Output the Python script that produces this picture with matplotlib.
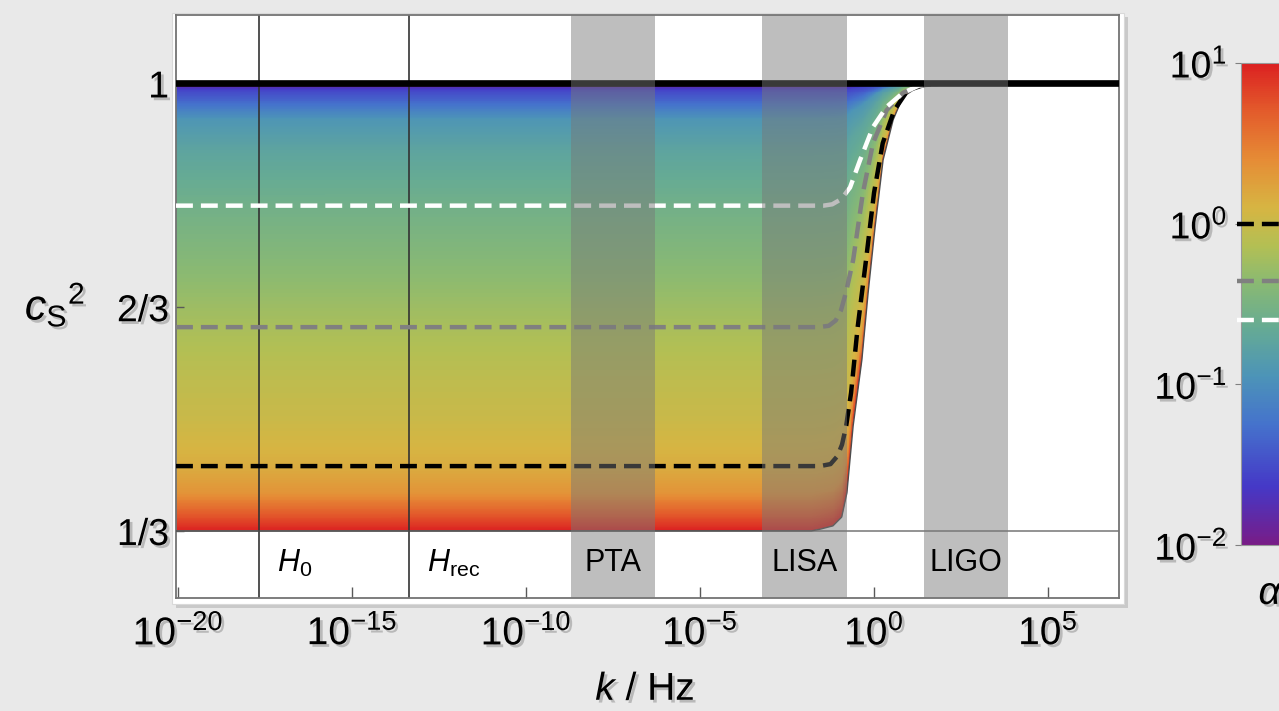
import numpy as np
import matplotlib
matplotlib.use("Agg")
import matplotlib.pyplot as plt
import matplotlib.patheffects as pe
from matplotlib.colors import LinearSegmentedColormap, LogNorm, Normalize
from matplotlib.colorbar import ColorbarBase
from matplotlib.patches import Polygon, Rectangle

plt.rcParams["font.family"] = ["Liberation Sans", "DejaVu Sans"]
plt.rcParams["mathtext.fontset"] = "custom"
plt.rcParams["mathtext.rm"] = "Liberation Sans"
plt.rcParams["mathtext.it"] = "Liberation Sans:italic"
plt.rcParams["mathtext.bf"] = "Liberation Sans:bold"

W, H = 1279, 711

# lower edge of the coloured region (alpha = 10 curve), log10(k/Hz) and cs^2
env_logk = [-20.06, -1.8, -1.55, -1.18, -0.93, -0.78, -0.60, -0.35, -0.17, 0.03, 0.26, 0.55, 0.83, 1.12, 1.6, 2.2, 7.04]
env_cs2 = [0.3333, 0.3335, 0.336, 0.341, 0.354, 0.39, 0.49, 0.588, 0.688, 0.786, 0.886, 0.946, 0.980, 0.990, 0.998, 1.0, 1.0]

# dashed curves for three alpha values
alpha_values = [1.0, 0.44, 0.25]
curve_colors = ["black", "0.5", "white"]
a1_logk = [-20.06, -1.55, -1.25, -1.05, -0.92, -0.80, -0.66, -0.47, -0.23, 0.0, 0.25, 0.58, 0.97, 1.4, 2.0]
a1_cs2 = [0.430, 0.430, 0.433, 0.445, 0.462, 0.49, 0.539, 0.637, 0.737, 0.837, 0.911, 0.960, 0.990, 0.998, 1.0]
a2_logk = [-20.06, -1.6, -1.3, -1.1, -0.95, -0.80, -0.60, -0.32, -0.03, 0.36, 0.83, 1.3, 2.0]
a2_cs2 = [0.637, 0.637, 0.639, 0.647, 0.662, 0.69, 0.737, 0.837, 0.911, 0.960, 0.986, 0.997, 1.0]
a3_logk = [-20.06, -1.45, -1.2, -1.0, -0.85, -0.69, -0.40, -0.03, 0.36, 0.83, 1.3, 2.0]
a3_cs2 = [0.818, 0.818, 0.820, 0.826, 0.834, 0.845, 0.886, 0.935, 0.965, 0.986, 0.997, 1.0]

grad_cs2 = [0.3333, 0.35, 0.39, 0.43, 0.50, 0.56, 0.64, 0.74, 0.82, 0.90, 0.946, 0.975, 0.99, 1.0]
grad_log_alpha = [1.0, 0.8, 0.34, 0.16, 0.01, -0.07, -0.2, -0.41, -0.56, -0.74, -0.92, -1.34, -1.55, -2.0]

# detector bands and scales (log10 k)
band_names = ["PTA", "LISA", "LIGO"]
band_lo = [-8.71, -3.21, 1.44]
band_hi = [-6.30, -0.79, 3.86]
scale_names = [r"$H_0$", r"$H_{\rm rec}$"]
scale_logk = [-17.67, -13.36]

xticks_exp = [-20, -15, -10, -5, 0, 5]
yticks = [1 / 3, 2 / 3, 1.0]
yticklabels = ["1/3", "2/3", "1"]
cbar_ticks = [1e-2, 1e-1, 1e0, 1e1]

rainbow = LinearSegmentedColormap.from_list("rainbow_m", [
    (0.00, (0.47, 0.11, 0.53)),
    (0.12, (0.27, 0.22, 0.78)),
    (0.25, (0.27, 0.45, 0.80)),
    (0.35, (0.30, 0.58, 0.72)),
    (0.45, (0.40, 0.67, 0.58)),
    (0.55, (0.55, 0.73, 0.44)),
    (0.62, (0.70, 0.75, 0.33)),
    (0.70, (0.84, 0.71, 0.26)),
    (0.80, (0.90, 0.55, 0.21)),
    (0.90, (0.89, 0.36, 0.17)),
    (1.00, (0.86, 0.13, 0.13)),
])

def fx(px):
    return px / W

def fy(py):
    return 1 - py / H

shadow = [pe.withSimplePatchShadow(offset=(2, -2), shadow_rgbFace="0.3", alpha=0.3)]

fig = plt.figure(figsize=(W / 100, H / 100), dpi=100, facecolor="#e9e9e9")

# white panel behind the plot
panel = Rectangle((fx(172), fy(604)), fx(1124 - 172), (604 - 13) / H, transform=fig.transFigure,
                  facecolor="white", edgecolor="0.85", lw=0.8, zorder=-5,
                  path_effects=[pe.withSimplePatchShadow(offset=(3, -3), alpha=0.2)])
fig.patches.append(panel)

ax = fig.add_axes([fx(176), fy(598), fx(1119 - 176), (598 - 15) / H])
ax.set_xscale("log")
ax.set_xlim(10 ** -20.06, 10 ** 7.04)
ax.set_ylim(0.2335, 1.102)

# gradient fill between the alpha=10 curve and cs^2 = 1; the colour band is squeezed
# into the shrinking gap where the curves rise
lk_edges = np.linspace(-20.06, 7.04, 1400)
c_edges = np.linspace(1 / 3, 1.0, 500)
lk_mid = 0.5 * (lk_edges[1:] + lk_edges[:-1])
c_mid = 0.5 * (c_edges[1:] + c_edges[:-1])
env_mid = np.interp(lk_mid, env_logk, env_cs2)
frac = (c_mid[:, None] - env_mid[None, :]) / np.maximum(1.0 - env_mid[None, :], 1e-6)
c_eff = 1 / 3 + (2 / 3) * np.clip(frac, 0, 1)
zgrid = np.interp(c_eff, grad_cs2, grad_log_alpha)
mesh = ax.pcolormesh(10.0 ** lk_edges, c_edges, zgrid, cmap=rainbow, norm=Normalize(-2, 1),
                     shading="flat", zorder=1, rasterized=True)
env_k = 10.0 ** np.array(env_logk)
poly = Polygon(np.column_stack([np.append(env_k, [env_k[-1], env_k[0]]),
                                np.append(env_cs2, [1.0, 1.0])]),
               closed=True, transform=ax.transData)
mesh.set_clip_path(poly)

ax.plot(env_k, env_cs2, color="0.3", lw=1.0, zorder=3)
ax.axhline(1 / 3, color="0.5", lw=1.2, zorder=2)
for lk in scale_logk:
    ax.axvline(10 ** lk, color="0.2", lw=1.2, zorder=2)

for lk, cs, col in zip([a1_logk, a2_logk, a3_logk], [a1_cs2, a2_cs2, a3_cs2], curve_colors):
    ax.plot(10.0 ** np.array(lk), cs, color=col, lw=3.2, dashes=(3.8, 1.8), zorder=4)
ax.axhline(1.0, color="black", lw=4.8, zorder=4.5)

for name, lo, hi in zip(band_names, band_lo, band_hi):
    ax.axvspan(10 ** lo, 10 ** hi, color="0.47", alpha=0.48, lw=0, zorder=5)
    ax.text(10 ** ((lo + hi) / 2), 0.285, name, ha="center", va="center", fontsize=22, zorder=6)
for name, lk in zip(scale_names, scale_logk):
    ax.text(10 ** (lk + 0.5), 0.285, name, ha="left", va="center", fontsize=22, zorder=6)

ax.set_xticks([10.0 ** e for e in xticks_exp])
ax.set_xticklabels([r"$10^{%d}$" % e for e in xticks_exp])
ax.xaxis.set_minor_locator(matplotlib.ticker.NullLocator())
ax.set_yticks(yticks)
ax.set_yticklabels(yticklabels)
ax.tick_params(axis="x", direction="in", length=8, width=1, color="0.35", pad=12, labelsize=28)
ax.tick_params(axis="y", direction="in", length=6, width=1, color="0.35", pad=5, labelsize=27)
for lab in ax.get_xticklabels() + ax.get_yticklabels():
    lab.set_path_effects(shadow)
for sp in ax.spines.values():
    sp.set_color("0.45")
    sp.set_linewidth(1.3)

fig.text(fx(55), fy(305), r"$c_{\rm S}{}^{2}$", ha="center", va="center", fontsize=31, path_effects=shadow)
fig.text(fx(645), fy(690), r"$k$ / Hz", ha="center", va="center", fontsize=28, path_effects=shadow)

# colour bar (partly outside the picture)
cax = fig.add_axes([fx(1241), fy(545), 0.05, (545 - 63) / H])
cb = ColorbarBase(cax, cmap=rainbow, norm=LogNorm(1e-2, 1e1), orientation="vertical", ticklocation="left")
cb.set_ticks(cbar_ticks)
cb.set_ticklabels([r"$10^{%d}$" % int(np.log10(t)) for t in cbar_ticks])
cax.yaxis.set_minor_locator(matplotlib.ticker.NullLocator())
cax.tick_params(axis="y", length=4, width=0.8, color="0.5", pad=6, labelsize=27)
for lab in cax.get_yticklabels():
    lab.set_path_effects(shadow)
cb.outline.set_edgecolor("0.6")
cb.outline.set_linewidth(0.8)
for a, col in zip(alpha_values, curve_colors):
    cax.plot([-0.06, 1.0], [a, a], color=col, lw=3.2, dashes=(3.8, 1.8),
             transform=cax.get_yaxis_transform(), clip_on=False, zorder=5)
fig.text(fx(1271), fy(594), r"$\alpha$", ha="center", va="center", fontsize=28, path_effects=shadow)

fig.savefig("out.png", dpi=100, facecolor=fig.get_facecolor())
plt.close(fig)
